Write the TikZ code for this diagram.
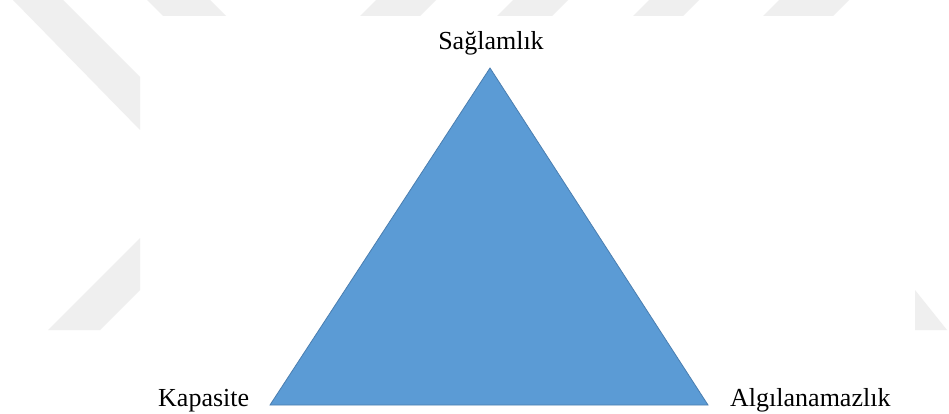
\documentclass[tikz,border=0pt]{standalone}
\usepackage{fontspec}
\setmainfont{Liberation Serif}
\definecolor{triblue}{HTML}{5B9BD5}
\definecolor{triedge}{HTML}{4A7EB0}
\definecolor{wm}{HTML}{EFEFEF}
\begin{document}
\begin{tikzpicture}[x=1pt,y=-1pt,
  lbl/.style={inner sep=0pt,font=\fontsize{26}{30}\selectfont,text=black},
  wmark/.style={fill=wm,draw=none}]
\useasboundingbox[fill=white] (0,0) rectangle (949,414);
% faint watermark
\fill[wmark] (13,0) -- (63,0) -- (140,77) -- (140,130) -- cycle;
\fill[wmark] (147,0) -- (210,0) -- (226,16) -- (163,16) -- cycle;
\fill[wmark] (48,330) -- (100,330) -- (140,290) -- (140,238) -- cycle;
\fill[wmark] (915,290) -- (947,330) -- (915,330) -- cycle;
\foreach \b/\w in {360/60,497/55,633/50,763/70}{
  \fill[wmark] (\b,16) -- (\b+\w,16) -- (\b+\w+16,0) -- (\b+16,0) -- cycle;
}
% triangle
\coordinate (top) at (490,68);
\coordinate (bl) at (270,405);
\coordinate (br) at (708,405);
\filldraw[fill=triblue,draw=triedge,line width=0.8pt,line join=miter] (top) -- (bl) -- (br) -- cycle;
% labels
\node[lbl,anchor=base] (s) at (491,50) {Sağlamlık};
\node[lbl,anchor=base west] (k) at (158,406) {Kapasite};
\node[lbl,anchor=base west] (a) at (730,406) {Algılanamazlık};
\end{tikzpicture}
\end{document}
